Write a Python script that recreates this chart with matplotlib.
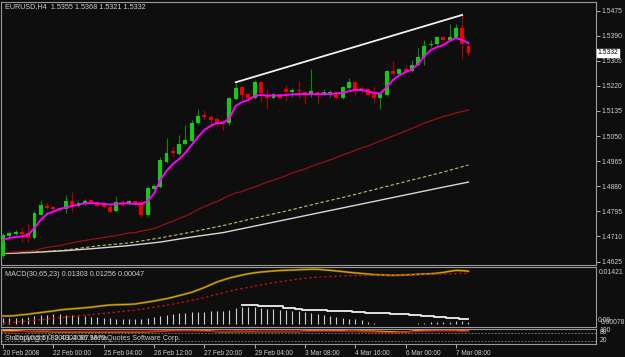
import matplotlib
matplotlib.use("Agg")
import matplotlib.pyplot as plt
import matplotlib.transforms as mtrans
import numpy as np

plt.rcParams["font.family"] = ["Liberation Sans", "DejaVu Sans"]
plt.rcParams["font.size"] = 5.2

BG = "#0e0e0e"
FG = "#cfcfcf"
FRAME = "#9a9a9a"

# EURUSD H4 candles, 20 Feb 2008 16:00 .. 7 Mar 2008
opens = [1.4644, 1.4712, 1.4719, 1.4725, 1.4722, 1.4705, 1.4783, 1.4813, 1.4810, 1.4800,
         1.4803, 1.4830, 1.4813, 1.4820, 1.4833, 1.4827, 1.4820, 1.4810, 1.4796, 1.4827,
         1.4820, 1.4830, 1.4827, 1.4783, 1.4871, 1.4877, 1.4962, 1.4999, 1.4989, 1.5023,
         1.5033, 1.5094, 1.5121, 1.5114, 1.5107, 1.5101, 1.5094, 1.5175, 1.5216, 1.5192,
         1.5179, 1.5233, 1.5189, 1.5179, 1.5192, 1.5209, 1.5199, 1.5206, 1.5199, 1.5192,
         1.5199, 1.5192, 1.5196, 1.5199, 1.5179, 1.5213, 1.5233, 1.5213, 1.5209, 1.5192,
         1.5179, 1.5189, 1.5270, 1.5260, 1.5277, 1.5270, 1.5291, 1.5318, 1.5358, 1.5362,
         1.5385, 1.5375, 1.5382, 1.5416, 1.5355]
highs = [1.4722, 1.4729, 1.4732, 1.4742, 1.4756, 1.4796, 1.4833, 1.4823, 1.4813, 1.4810,
         1.4850, 1.4861, 1.4830, 1.4837, 1.4837, 1.4830, 1.4823, 1.4816, 1.4844, 1.4833,
         1.4833, 1.4833, 1.4833, 1.4881, 1.4888, 1.4979, 1.5043, 1.5013, 1.5053, 1.5087,
         1.5104, 1.5141, 1.5138, 1.5121, 1.5114, 1.5104, 1.5182, 1.5230, 1.5219, 1.5196,
         1.5240, 1.5236, 1.5209, 1.5196, 1.5196, 1.5222, 1.5213, 1.5236, 1.5202, 1.5277,
         1.5202, 1.5209, 1.5206, 1.5202, 1.5219, 1.5247, 1.5236, 1.5219, 1.5213, 1.5219,
         1.5196, 1.5274, 1.5304, 1.5280, 1.5291, 1.5307, 1.5348, 1.5375, 1.5375, 1.5389,
         1.5389, 1.5429, 1.5429, 1.5460, 1.5368]
lows = [1.4637, 1.4708, 1.4715, 1.4691, 1.4691, 1.4702, 1.4779, 1.4803, 1.4789, 1.4796,
        1.4789, 1.4793, 1.4810, 1.4816, 1.4823, 1.4810, 1.4806, 1.4789, 1.4793, 1.4813,
        1.4816, 1.4816, 1.4776, 1.4779, 1.4868, 1.4874, 1.4959, 1.4979, 1.4986, 1.5020,
        1.5020, 1.5091, 1.5107, 1.5087, 1.5081, 1.5070, 1.5087, 1.5172, 1.5172, 1.5175,
        1.5175, 1.5165, 1.5145, 1.5175, 1.5175, 1.5168, 1.5182, 1.5179, 1.5158, 1.5182,
        1.5158, 1.5189, 1.5182, 1.5175, 1.5175, 1.5209, 1.5189, 1.5196, 1.5186, 1.5161,
        1.5141, 1.5186, 1.5257, 1.5257, 1.5267, 1.5267, 1.5287, 1.5291, 1.5352, 1.5358,
        1.5372, 1.5372, 1.5379, 1.5311, 1.5321]
closes = [1.4715, 1.4722, 1.4725, 1.4719, 1.4705, 1.4789, 1.4816, 1.4806, 1.4803, 1.4806,
          1.4830, 1.4810, 1.4823, 1.4830, 1.4827, 1.4813, 1.4810, 1.4793, 1.4827, 1.4816,
          1.4830, 1.4820, 1.4783, 1.4874, 1.4881, 1.4969, 1.4993, 1.4993, 1.5023, 1.5036,
          1.5094, 1.5118, 1.5114, 1.5104, 1.5094, 1.5097, 1.5179, 1.5213, 1.5189, 1.5179,
          1.5233, 1.5196, 1.5179, 1.5192, 1.5179, 1.5199, 1.5206, 1.5202, 1.5192, 1.5202,
          1.5192, 1.5199, 1.5199, 1.5179, 1.5216, 1.5233, 1.5206, 1.5206, 1.5189, 1.5179,
          1.5192, 1.5270, 1.5260, 1.5277, 1.5270, 1.5291, 1.5318, 1.5355, 1.5362, 1.5385,
          1.5375, 1.5385, 1.5416, 1.5362, 1.5332]

# moving averages (fast one per bar, slow ones read every 5 bars)
ma_fast = [1.4698, 1.4705, 1.4708, 1.4710, 1.4715, 1.4739, 1.4766, 1.4786, 1.4794, 1.4803,
           1.4808, 1.4813, 1.4818, 1.4822, 1.4823, 1.4822, 1.4820, 1.4818, 1.4820, 1.4822,
           1.4822, 1.4820, 1.4820, 1.4830, 1.4854, 1.4901, 1.4932, 1.4955, 1.4972, 1.4993,
           1.5020, 1.5047, 1.5070, 1.5084, 1.5094, 1.5094, 1.5111, 1.5152, 1.5165, 1.5172,
           1.5186, 1.5189, 1.5187, 1.5187, 1.5187, 1.5189, 1.5191, 1.5192, 1.5192, 1.5192,
           1.5192, 1.5192, 1.5192, 1.5194, 1.5196, 1.5202, 1.5206, 1.5206, 1.5201, 1.5196,
           1.5194, 1.5216, 1.5240, 1.5255, 1.5267, 1.5275, 1.5294, 1.5321, 1.5341, 1.5351,
           1.5358, 1.5372, 1.5382, 1.5375, 1.5365]
ma_mid = [1.4654, 1.4656, 1.4657, 1.4659, 1.4661, 1.4662, 1.4668, 1.4673, 1.4676, 1.4679,
          1.4684, 1.4688, 1.4693, 1.4696, 1.4700, 1.4703, 1.4706, 1.4710, 1.4713, 1.4717,
          1.4722, 1.4723, 1.4728, 1.4732, 1.4737, 1.4745, 1.4754, 1.4762, 1.4771, 1.4779,
          1.4789, 1.4801, 1.4811, 1.4820, 1.4828, 1.4838, 1.4849, 1.4857, 1.4862, 1.4871,
          1.4877, 1.4886, 1.4894, 1.4901, 1.4908, 1.4916, 1.4925, 1.4932, 1.4938, 1.4947,
          1.4955, 1.4962, 1.4969, 1.4977, 1.4986, 1.4993, 1.5001, 1.5010, 1.5016, 1.5025,
          1.5033, 1.5042, 1.5050, 1.5059, 1.5067, 1.5076, 1.5084, 1.5094, 1.5101, 1.5109,
          1.5116, 1.5121, 1.5128, 1.5133, 1.5138]
slow_idx = [0, 5, 10, 15, 20, 25, 30, 35, 40, 45, 50, 55, 60, 65, 70, 74]
ma_slow_dash = [1.4654, 1.4657, 1.4664, 1.4678, 1.4688, 1.4705, 1.4725, 1.4747,
                1.4772, 1.4796, 1.4822, 1.4847, 1.4874, 1.4901, 1.4928, 1.4952]
ma_slow = [1.4652, 1.4656, 1.4662, 1.4670, 1.4679, 1.4691, 1.4708, 1.4723,
           1.4745, 1.4767, 1.4789, 1.4811, 1.4833, 1.4855, 1.4877, 1.4894]

trend_idx = [37, 73]
trend_px = [1.5232, 1.5460]

# MACD(30,65,23)
macd_main = [0.00194, 0.00194, 0.00207, 0.00224, 0.00239, 0.00261, 0.00281, 0.00301, 0.00318, 0.00343,
             0.00360, 0.00373, 0.00385, 0.00398, 0.00412, 0.00432, 0.00452, 0.00467, 0.00474, 0.00479,
             0.00482, 0.00492, 0.00516, 0.00541, 0.00566, 0.00596, 0.00623, 0.00660, 0.00700, 0.00740,
             0.00782, 0.00839, 0.00901, 0.00968, 0.01037, 0.01087, 0.01136, 0.01173, 0.01210, 0.01240,
             0.01265, 0.01285, 0.01297, 0.01310, 0.01322, 0.01329, 0.01334, 0.01342, 0.01347, 0.01352,
             0.01352, 0.01339, 0.01327, 0.01310, 0.01295, 0.01277, 0.01262, 0.01248, 0.01235, 0.01220,
             0.01213, 0.01208, 0.01203, 0.01208, 0.01213, 0.01220, 0.01228, 0.01235, 0.01240, 0.01255,
             0.01275, 0.01302, 0.01324, 0.01319, 0.01303]
macd_signal = [0.00011, 0.00026, 0.00043, 0.00058, 0.00075, 0.00090, 0.00105, 0.00120, 0.00137, 0.00152,
               0.00167, 0.00182, 0.00197, 0.00212, 0.00229, 0.00244, 0.00259, 0.00276, 0.00291, 0.00308,
               0.00326, 0.00343, 0.00365, 0.00388, 0.00412, 0.00435, 0.00460, 0.00489, 0.00519, 0.00551,
               0.00583, 0.00613, 0.00650, 0.00690, 0.00730, 0.00769, 0.00809, 0.00846, 0.00876, 0.00906,
               0.00935, 0.00965, 0.00995, 0.01020, 0.01042, 0.01067, 0.01089, 0.01111, 0.01129, 0.01143,
               0.01156, 0.01166, 0.01173, 0.01181, 0.01186, 0.01191, 0.01193, 0.01196, 0.01198, 0.01203,
               0.01205, 0.01208, 0.01210, 0.01213, 0.01215, 0.01218, 0.01220, 0.01225, 0.01228, 0.01233,
               0.01235, 0.01240, 0.01245, 0.01250, 0.01256]
macd_hist = [0.00149, 0.00149, 0.00149, 0.00149, 0.00161, 0.00186, 0.00211, 0.00223, 0.00235, 0.00235,
             0.00223, 0.00211, 0.00198, 0.00186, 0.00173, 0.00161, 0.00149, 0.00136, 0.00124, 0.00124,
             0.00124, 0.00124, 0.00112, 0.00136, 0.00161, 0.00198, 0.00223, 0.00248, 0.00260, 0.00273,
             0.00285, 0.00297, 0.00297, 0.00310, 0.00310, 0.00310, 0.00335, 0.00396, 0.00421, 0.00421,
             0.00409, 0.00396, 0.00372, 0.00359, 0.00347, 0.00335, 0.00322, 0.00310, 0.00297, 0.00273,
             0.00248, 0.00223, 0.00198, 0.00173, 0.00149, 0.00124, 0.00112, 0.00087, 0.00037, 0.00025,
             0.0, 0.0, 0.0, 0.0, 0.0, 0.0, 0.00025, 0.00025, 0.00037, 0.00037,
             0.00050, 0.00050, 0.00062, 0.00062, 0.00047]
hist_line = [0.00460, 0.00460, 0.00460, 0.00435, 0.00435, 0.00435, 0.00435, 0.00393, 0.00393, 0.00368,
             0.00355, 0.00355, 0.00355, 0.00355, 0.00326, 0.00326, 0.00326, 0.00326, 0.00294, 0.00294,
             0.00269, 0.00269, 0.00269, 0.00269, 0.00236, 0.00236, 0.00236, 0.00212, 0.00212, 0.00187,
             0.00187, 0.00170, 0.00170, 0.00152, 0.00152, 0.00128, 0.00128]
hist_line_start = 38

# Stochastic
stoch_k = [84, 86, 88, 90, 90, 91, 92, 92, 90, 89, 89, 88, 88, 89, 89, 88, 88, 88, 89, 89,
           89, 89, 89, 90, 91, 92, 93, 93, 93, 93, 93, 92, 91, 90, 89, 89, 90, 91, 91, 91,
           91, 90, 90, 90, 90, 90, 90, 90, 90, 91, 91, 91, 91, 91, 90, 89, 88, 87, 86, 85,
           84, 82, 80, 82, 85, 87, 89, 91, 92, 93, 93, 93, 93, 91, 89]
stoch_d = [96, 97, 96, 92, 88, 88, 88, 88, 87, 86, 86, 86, 86, 86, 86, 86, 86, 86, 86, 86,
           86, 86, 86, 87, 88, 90, 93, 98, 99, 99, 99, 99, 98, 92, 88, 87, 87, 88, 88, 88,
           88, 88, 88, 88, 88, 88, 88, 88, 91, 97, 98, 98, 98, 97, 94, 90, 90, 92, 92, 91,
           90, 88, 86, 84, 86, 90, 98, 99, 99, 99, 99, 99, 99, 94, 91]

date_idx = [0, 8, 16, 24, 32, 40, 48, 56, 64, 72]
date_labels = ["20 Feb 2008", "22 Feb 00:00", "25 Feb 04:00", "26 Feb 12:00", "27 Feb 20:00",
               "29 Feb 04:00", "3 Mar 08:00", "4 Mar 16:00", "6 Mar 00:00", "7 Mar 08:00"]
price_ticks = [1.4625, 1.4710, 1.4795, 1.4880, 1.4965, 1.5050, 1.5135, 1.5220, 1.5305, 1.5390, 1.5475]

W, H = 625, 357
SMALL = 4.9


def px_rect(x0, y0, x1, y1):
    return [x0 / W, 1 - y1 / H, (x1 - x0) / W, (y1 - y0) / H]


def style(a):
    a.set_facecolor(BG)
    for s in a.spines.values():
        s.set_color(FRAME)
        s.set_linewidth(0.8)


fig = plt.figure(figsize=(W / 100, H / 100), dpi=100, facecolor=BG)
ax = fig.add_axes(px_rect(1, 1.5, 596, 264.5))
mx = fig.add_axes(px_rect(1, 266.5, 596, 327), sharex=ax)
sx = fig.add_axes(px_rect(1, 328.5, 596, 344), sharex=ax)
for a in (ax, mx, sx):
    style(a)

x = np.arange(len(closes))
o, h, l, c = map(np.array, (opens, highs, lows, closes))
up = c >= o

# --- price panel
ax.plot(np.array(slow_idx), ma_slow, color="#d8d8d8", lw=1.0, zorder=2)
ax.plot(np.array(slow_idx), ma_slow_dash, color="#cdbb6a", lw=0.8, ls=(0, (3, 2)), zorder=2)
ax.plot(x, ma_mid, color="#9a1010", lw=0.9, zorder=2)

ax.vlines(x[up], l[up], h[up], color="#0a8a0a", lw=0.8, zorder=3)
ax.vlines(x[~up], l[~up], h[~up], color="#b00000", lw=0.8, zorder=3)
body_lo = np.minimum(o, c)
body_h = np.maximum(np.abs(c - o), 0.00025)
ax.bar(x[up], body_h[up], bottom=body_lo[up], width=0.62, color="#12cc12", zorder=4)
ax.bar(x[~up], body_h[~up], bottom=body_lo[~up], width=0.62, color="#ee0000", zorder=4)

ax.plot(x, ma_fast, color="#ff00ff", lw=1.4, zorder=5)
ax.plot(trend_idx, trend_px, color="#f2f2f2", lw=1.3, zorder=6)

ax.set_xlim(-0.318, 94.276)
ax.set_ylim(1.46150, 1.55055)
ax.yaxis.tick_right()
ax.set_yticks(price_ticks)
ax.set_yticklabels([f"{v:.4f}" for v in price_ticks])
ax.tick_params(axis="y", colors=FG, length=3, width=0.6, pad=1, labelsize=SMALL)
ax.tick_params(axis="x", bottom=False, labelbottom=False)

blend = mtrans.blended_transform_factory(ax.transAxes, ax.transData)
ax.text(1.003, closes[-1], f"{closes[-1]:.4f}", transform=blend, ha="left", va="center",
        color="black", fontsize=SMALL, bbox=dict(fc="white", ec="white", pad=0.5),
        zorder=10, clip_on=False)

fig.text(5 / W, 1 - 7 / H,
         f"EURUSD,H4  {opens[-1]:.4f} {highs[-1]:.4f} {lows[-1]:.4f} {closes[-1]:.4f}",
         color=FG, va="center", ha="left")

# --- MACD panel
mx.vlines(x, 0, macd_hist, color="#cfcfcf", lw=0.8)
hx = np.arange(hist_line_start, hist_line_start + len(hist_line))
mx.step(hx, hist_line, where="mid", color="#f0f0f0", lw=1.3)
mx.plot(x, macd_main, color="#6e5a10", lw=1.6)
mx.plot(x, macd_main, color="#d4a800", lw=0.8)
mx.plot(x, macd_signal, color="#cc1010", lw=0.9, ls=(0, (2, 2)))
mx.set_ylim(-0.00078, 0.01421)
mx.set_yticks([])
mx.tick_params(axis="x", bottom=False, labelbottom=False)
fig.text(5 / W, 1 - 274 / H,
         f"MACD(30,65,23) {macd_main[-1]:.5f} {macd_signal[-1]:.5f} {macd_hist[-1]:.5f}",
         color=FG, va="center", ha="left")
fig.text(599 / W, 1 - 272 / H, "0.01421", color=FG, va="center", ha="left", fontsize=SMALL)
fig.text(598 / W, 1 - 321 / H, "0.00", color=FG, va="center", ha="left", fontsize=SMALL)
fig.text(601 / W, 1 - 323 / H, "0.00078", color=FG, va="center", ha="left", fontsize=SMALL)

# --- Stochastic panel
sx.plot(x, stoch_d, color="#f0c000", lw=1.0)
sx.plot(x, stoch_k, color="#dd1010", lw=1.0)
for lv in (80, 20):
    sx.axhline(lv, color="#8a8a8a", lw=0.6, ls=(0, (2, 2)))
sx.set_ylim(-4.5, 111)
sx.set_yticks([])
sx.set_xticks(date_idx)
sx.set_xticklabels(date_labels)
sx.tick_params(axis="x", colors=FG, length=3, width=0.6, pad=1, labelsize=4.7)
for t in sx.get_xticklabels():
    t.set_ha("left")
fig.text(5 / W, 1 - 338 / H, "Stoch(10,5,5) 89.4904 96.9879", color=FG, va="center", ha="left")
fig.text(14 / W, 1 - 338 / H, "Copyright \u00a9 2001-2007 MetaQuotes Software Corp.",
         color=FG, va="center", ha="left")
fig.text(599 / W, 1 - 330 / H, "100", color=FG, va="center", ha="left", fontsize=SMALL)
fig.text(600 / W, 1 - 333 / H, "80", color=FG, va="center", ha="left", fontsize=SMALL)
fig.text(600 / W, 1 - 341 / H, "20", color=FG, va="center", ha="left", fontsize=SMALL)

fig.savefig("out.png", dpi=100, facecolor=BG)
